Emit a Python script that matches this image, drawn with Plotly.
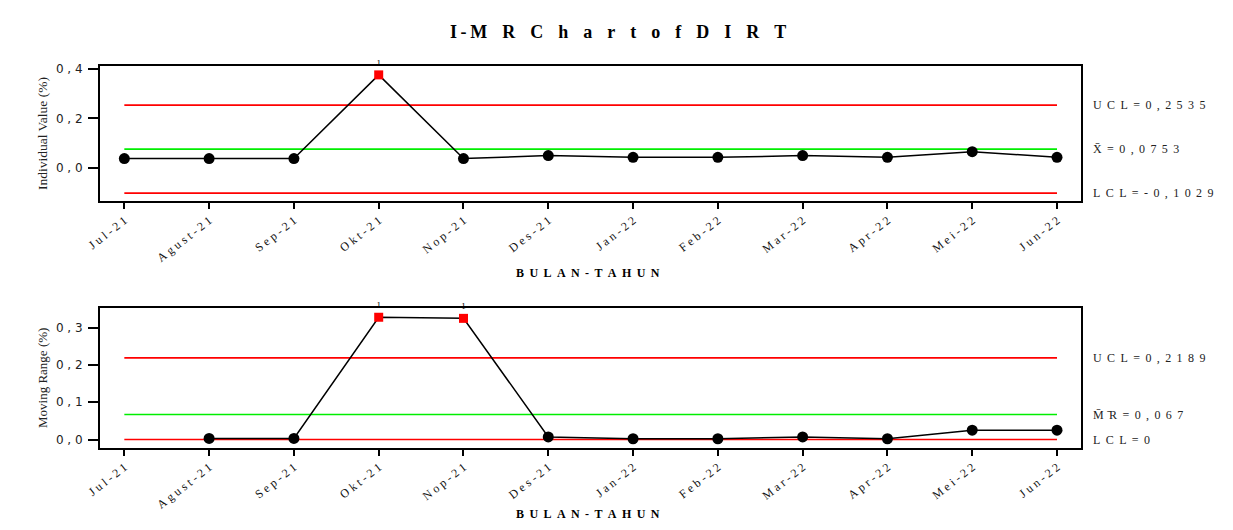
import plotly.graph_objects as go

# ---------------- data ----------------
months = ["Jul-21", "Agust-21", "Sep-21", "Okt-21", "Nop-21", "Des-21",
          "Jan-22", "Feb-22", "Mar-22", "Apr-22", "Mei-22", "Jun-22"]
individual = [0.037, 0.037, 0.037, 0.376, 0.037, 0.049,
              0.042, 0.042, 0.049, 0.042, 0.065, 0.042]
moving_range = [None, 0.003, 0.003, 0.328, 0.325, 0.007,
                0.002, 0.002, 0.007, 0.002, 0.025, 0.025]
i_flags = [False, False, False, True, False, False,
           False, False, False, False, False, False]
mr_flags = [False, False, False, True, True, False,
            False, False, False, False, False, False]

i_ucl, i_cl, i_lcl = 0.2535, 0.0753, -0.1029
mr_ucl, mr_cl, mr_lcl = 0.2189, 0.067, 0.0

i_ticks = [0.0, 0.2, 0.4]
mr_ticks = [0.0, 0.1, 0.2, 0.3]

# ---------------- helpers ----------------
NB = "\u00a0"
TH = "\u2009"
HS = "\u200a"


def spaced(s, sep):
    return sep.join(list(s))


def num_label(v, dec):
    return spaced(f"{v:.{dec}f}".replace(".", ","), NB)


# page body has an 8px margin; positions below are measured in window pixels
OFF = 8
W, H = 1217, 514


def px_x(p):
    return (p - OFF) / W


def px_y(p):
    return 1 - (p - OFF) / H


fig = go.Figure()

# control lines
for val, col, ax in [(i_ucl, "#ff0000", "y"), (i_cl, "#00ee00", "y"), (i_lcl, "#ff0000", "y"),
                     (mr_ucl, "#ff0000", "y2"), (mr_cl, "#00ee00", "y2"), (mr_lcl, "#ff0000", "y2")]:
    fig.add_trace(go.Scatter(
        x=[months[0], months[-1]], y=[val, val], mode="lines",
        line=dict(color=col, width=1.6), xaxis="x" if ax == "y" else "x2", yaxis=ax,
        hoverinfo="skip", showlegend=False))


def data_trace(vals, flags, xa, ya):
    xs = [m for m, v in zip(months, vals) if v is not None]
    ys = [v for v in vals if v is not None]
    fl = [f for f, v in zip(flags, vals) if v is not None]
    return go.Scatter(
        x=xs, y=ys, mode="lines+markers+text",
        line=dict(color="black", width=1.5),
        marker=dict(color=["#ff0000" if f else "#000000" for f in fl],
                    symbol=["square" if f else "circle" for f in fl],
                    size=[9 if f else 11 for f in fl], opacity=1,
                    line=dict(width=0)),
        text=["1" if f else "" for f in fl], textposition="top center",
        textfont=dict(family="Liberation Serif", size=9, color="black"),
        xaxis=xa, yaxis=ya, showlegend=False, cliponaxis=False)


fig.add_trace(data_trace(individual, i_flags, "x", "y"))
fig.add_trace(data_trace(moving_range, mr_flags, "x2", "y2"))

xdom = [px_x(100), px_x(1081)]
xcommon = dict(
    domain=xdom, type="category", categoryorder="array", categoryarray=months,
    range=[-0.287, 11.283], tickmode="array", tickvals=months,
    ticktext=[spaced(m, NB) for m in months], tickangle=-38,
    tickfont=dict(family="Liberation Serif", size=12, color="#111"),
    ticks="outside", ticklen=6, tickwidth=1.5, tickcolor="black",
    showline=True, mirror=True, linewidth=2, linecolor="black",
    showgrid=False, zeroline=False, automargin=False)
ycommon = dict(
    tickfont=dict(family="DejaVu Sans", size=12, color="#222"),
    ticks="outside", ticklen=10, tickwidth=1.5, tickcolor="black",
    ticklabelstandoff=3,
    showline=True, mirror=True, linewidth=2, linecolor="black",
    showgrid=False, zeroline=False, automargin=False)

fig.update_layout(
    width=W, height=H, margin=dict(l=0, r=0, t=0, b=0),
    paper_bgcolor="white", plot_bgcolor="white", showlegend=False,
    xaxis=dict(anchor="y", **xcommon),
    xaxis2=dict(anchor="y2", **xcommon),
    yaxis=dict(anchor="x", domain=[px_y(201), px_y(66)], range=[-0.135, 0.412],
               tickvals=i_ticks, ticktext=[num_label(v, 1) for v in i_ticks], **ycommon),
    yaxis2=dict(anchor="x2", domain=[px_y(447.7), px_y(308.3)], range=[-0.022, 0.352],
                tickvals=mr_ticks, ticktext=[num_label(v, 1) for v in mr_ticks], **ycommon),
)

ann = []
# title
tsep = NB * 3 + HS
title_txt = ("I" + TH + "-" + TH + "M" + tsep + "R" + tsep + spaced("Chart", tsep) + tsep
             + spaced("of", tsep) + tsep + spaced("DIRT", tsep))
ann.append(dict(text=title_txt, x=px_x(618), y=px_y(32), xref="paper", yref="paper",
                showarrow=False, xanchor="center", yanchor="middle",
                font=dict(family="Liberation Serif", size=18, color="black", weight="bold")))
# axis titles
for yy in (273, 514):
    ann.append(dict(text=spaced("BULAN-TAHUN", NB + TH), x=px_x(588), y=px_y(yy),
                    xref="paper", yref="paper", showarrow=False, xanchor="center", yanchor="middle",
                    font=dict(family="Liberation Serif", size=12, color="black", weight="bold")))
ann.append(dict(text="Individual Value (%)", x=px_x(42), y=px_y(134), xref="paper", yref="paper",
                showarrow=False, textangle=-90, xanchor="center", yanchor="middle",
                font=dict(family="Liberation Serif", size=13.5, color="#222")))
ann.append(dict(text="Moving Range (%)", x=px_x(42), y=px_y(378), xref="paper", yref="paper",
                showarrow=False, textangle=-90, xanchor="center", yanchor="middle",
                font=dict(family="Liberation Serif", size=13, color="#222")))

# control-limit labels
sep = NB + TH
lab_font = dict(family="Liberation Serif", size=12, color="#222")
labels = [
    (spaced("UCL", sep) + sep + "=" + sep + spaced(f"{i_ucl:.4f}".replace(".", ","), sep), i_ucl, "y"),
    ("X\u0304" + sep + "=" + sep + spaced(f"{i_cl:.4f}".replace(".", ","), sep), i_cl, "y"),
    (spaced("LCL", sep) + sep + "=" + sep + spaced(f"{i_lcl:.4f}".replace(".", ","), sep), i_lcl, "y"),
    (spaced("UCL", sep) + sep + "=" + sep + spaced(f"{mr_ucl:.4f}".replace(".", ","), sep), mr_ucl, "y2"),
    ("M\u0304" + sep + "\u0304R" + sep + "=" + sep + spaced(f"{mr_cl:.3f}".replace(".", ","), sep), mr_cl, "y2"),
    (spaced("LCL", sep) + sep + "=" + sep + "0", mr_lcl, "y2"),
]
for txt, val, yr in labels:
    ann.append(dict(text=txt, x=px_x(1091), y=val, xref="paper", yref=yr, showarrow=False,
                    xanchor="left", yanchor="middle", font=lab_font))

fig.update_layout(annotations=ann)
fig.write_html("out.html")
